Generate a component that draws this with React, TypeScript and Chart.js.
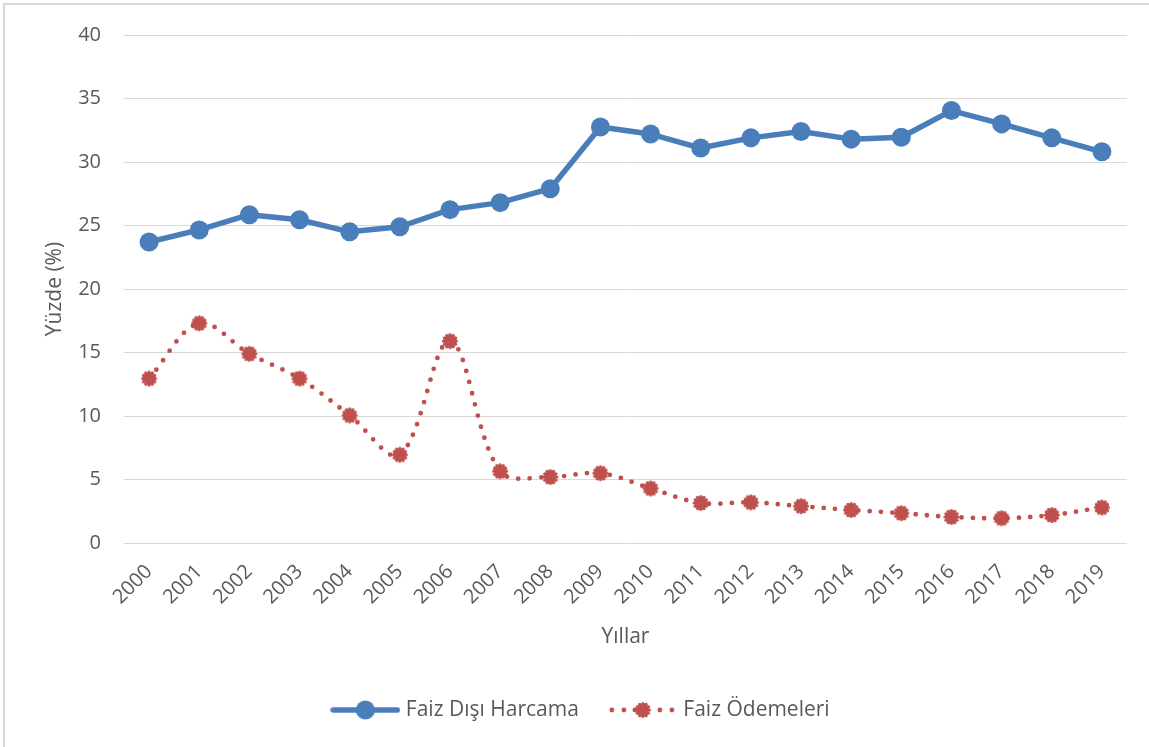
import React, { useEffect, useRef } from 'react';
import { Chart, registerables } from 'chart.js';

Chart.register(...registerables);

const years = ['2000', '2001', '2002', '2003', '2004', '2005', '2006', '2007', '2008', '2009', '2010', '2011', '2012', '2013', '2014', '2015', '2016', '2017', '2018', '2019'];
const faizDisiHarcama = [23.7, 24.65, 25.85, 25.45, 24.5, 24.9, 26.25, 26.8, 27.9, 32.75, 32.2, 31.1, 31.9, 32.4, 31.8, 31.95, 34.05, 33.0, 31.9, 30.8];
const faizOdemeleri = [12.95, 17.3, 14.9, 12.95, 10.05, 6.95, 15.9, 5.65, 5.2, 5.5, 4.3, 3.15, 3.2, 2.9, 2.6, 2.35, 2.05, 1.95, 2.2, 2.8];
const seriesNames = ['Faiz Dışı Harcama', 'Faiz Ödemeleri'];
const yMin = 0;
const yMax = 40;
const yStep = 5;

const BLUE = '#4a7ebb';
const RED = '#c0504d';
const TEXT = '#595959';
const GRID = '#d9d9d9';
const FONT = '"Open Sans", sans-serif';

function makeStarMarker(r: number): HTMLCanvasElement {
  const size = Math.ceil(2 * (r + 3));
  const c = document.createElement('canvas');
  c.width = size;
  c.height = size;
  const ctx = c.getContext('2d')!;
  const cx = size / 2;
  const cy = size / 2;
  ctx.fillStyle = RED;
  ctx.beginPath();
  ctx.arc(cx, cy, r - 0.5, 0, Math.PI * 2);
  ctx.fill();
  for (let i = 0; i < 12; i++) {
    const a = (i / 12) * Math.PI * 2;
    ctx.beginPath();
    ctx.arc(cx + Math.cos(a) * (r - 0.5), cy + Math.sin(a) * (r - 0.5), 1.6, 0, Math.PI * 2);
    ctx.fill();
  }
  return c;
}

function makeBlueLegend(): HTMLCanvasElement {
  const c = document.createElement('canvas');
  c.width = 70;
  c.height = 22;
  const ctx = c.getContext('2d')!;
  ctx.strokeStyle = BLUE;
  ctx.lineWidth = 5.5;
  ctx.lineCap = 'round';
  ctx.beginPath();
  ctx.moveTo(3, 11);
  ctx.lineTo(67, 11);
  ctx.stroke();
  ctx.fillStyle = BLUE;
  ctx.beginPath();
  ctx.arc(35, 11, 9.5, 0, Math.PI * 2);
  ctx.fill();
  return c;
}

function makeRedLegend(): HTMLCanvasElement {
  const c = document.createElement('canvas');
  c.width = 70;
  c.height = 22;
  const ctx = c.getContext('2d')!;
  ctx.fillStyle = RED;
  [4, 16, 27, 52, 64].forEach((x) => {
    ctx.beginPath();
    ctx.arc(x, 11, 2.4, 0, Math.PI * 2);
    ctx.fill();
  });
  const m = makeStarMarker(7);
  ctx.drawImage(m, 35 - m.width / 2, 11 - m.height / 2);
  return c;
}

export default function App() {
  const ref = useRef<HTMLCanvasElement | null>(null);

  useEffect(() => {
    document.body.style.margin = '0';
    document.body.style.overflow = 'hidden';
    const canvas = ref.current!;
    const starMarker = makeStarMarker(7);
    const blueLegend = makeBlueLegend();
    const redLegend = makeRedLegend();

    const chart = new Chart(canvas, {
      type: 'line',
      data: {
        labels: years,
        datasets: [
          {
            label: seriesNames[0],
            data: faizDisiHarcama,
            borderColor: BLUE,
            backgroundColor: BLUE,
            borderWidth: 5.5,
            pointRadius: 9.5,
            pointBackgroundColor: BLUE,
            pointBorderWidth: 0,
            pointStyle: 'circle',
            tension: 0,
            borderJoinStyle: 'round',
          },
          {
            label: seriesNames[1],
            data: faizOdemeleri,
            borderColor: RED,
            backgroundColor: RED,
            borderWidth: 4.8,
            borderDash: [0, 11.5],
            borderCapStyle: 'round',
            pointStyle: starMarker,
            pointRadius: 7,
            tension: 0.35,
            cubicInterpolationMode: 'default',
          },
        ],
      },
      options: {
        responsive: false,
        animation: false,
        events: [],
        layout: { padding: { left: 38, right: 22, top: 34, bottom: 16.5 } },
        plugins: {
          tooltip: { enabled: false },
          legend: {
            position: 'bottom',
            labels: {
              usePointStyle: true,
              pointStyleWidth: 60,
              padding: 34,
              color: TEXT,
              font: { family: FONT, size: 21 },
              generateLabels: () => [
                { text: seriesNames[0], pointStyle: blueLegend, fillStyle: BLUE, strokeStyle: BLUE, lineWidth: 0, hidden: false, datasetIndex: 0, fontColor: TEXT },
                { text: seriesNames[1], pointStyle: redLegend, fillStyle: RED, strokeStyle: RED, lineWidth: 0, hidden: false, datasetIndex: 1, fontColor: TEXT },
              ] as any,
            },
          },
        },
        scales: {
          x: {
            offset: true,
            grid: { display: false, drawTicks: false },
            border: { display: false },
            ticks: {
              color: TEXT,
              font: { family: FONT, size: 20 },
              minRotation: 45,
              maxRotation: 45,
              padding: 17,
              autoSkip: false,
            },
            title: {
              display: true,
              text: 'Yıllar',
              color: TEXT,
              font: { family: FONT, size: 21 },
              padding: { top: 4, bottom: 16 },
            },
            afterFit: (scale: any) => {
              scale.height = 122.5;
            },
          },
          y: {
            min: yMin,
            max: yMax,
            grid: { color: GRID, lineWidth: 1, drawTicks: false },
            border: { display: false },
            ticks: {
              stepSize: yStep,
              color: TEXT,
              font: { family: FONT, size: 20 },
              padding: 23,
            },
            title: {
              display: true,
              text: 'Yüzde (%)',
              color: TEXT,
              font: { family: FONT, size: 21 },
              padding: { top: 4, bottom: 4 },
            },
            afterFit: (scale: any) => {
              scale.width = 86;
            },
          },
        },
      },
    });
    return () => chart.destroy();
  }, []);

  return (
    <div style={{ position: 'fixed', left: 0, top: 0, width: 1149, height: 747, overflow: 'hidden', background: '#fff' }}>
      <div style={{ position: 'absolute', left: 3, top: 3, width: 1200, height: 800, border: `2px solid ${GRID}`, boxSizing: 'border-box' }} />
      <canvas ref={ref} width={1149} height={747} style={{ position: 'absolute', left: 0, top: 0 }} />
    </div>
  );
}
